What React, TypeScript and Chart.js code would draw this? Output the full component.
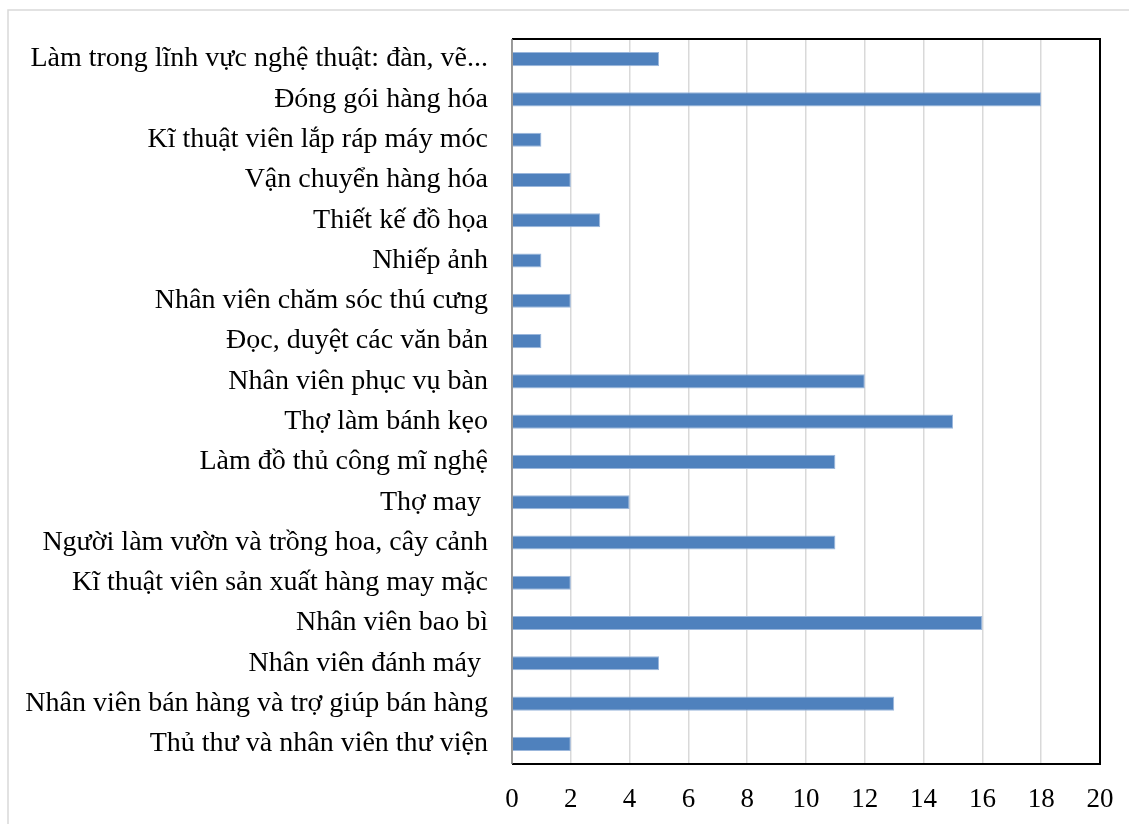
import React, { useEffect, useRef } from "react";
import { Chart, registerables } from "chart.js";

Chart.register(...registerables);

const categories: string[] = [
  "Làm trong lĩnh vực nghệ thuật: đàn, vẽ...",
  "Đóng gói hàng hóa",
  "Kĩ thuật viên lắp ráp máy móc",
  "Vận chuyển hàng hóa",
  "Thiết kế đồ họa",
  "Nhiếp ảnh",
  "Nhân viên chăm sóc thú cưng",
  "Đọc, duyệt các văn bản",
  "Nhân viên phục vụ bàn",
  "Thợ làm bánh kẹo",
  "Làm đồ thủ công mĩ nghệ",
  "Thợ may ",
  "Người làm vườn và trồng hoa, cây cảnh",
  "Kĩ thuật viên sản xuất hàng may mặc",
  "Nhân viên bao bì",
  "Nhân viên đánh máy ",
  "Nhân viên bán hàng và trợ giúp bán hàng",
  "Thủ thư và nhân viên thư viện",
];

const values: number[] = [5, 18, 1, 2, 3, 1, 2, 1, 12, 15, 11, 4, 11, 2, 16, 5, 13, 2];

const xMin = 0;
const xMax = 20;
const xStep = 2;

const FONT = "'Liberation Serif', 'Times New Roman', serif";

export default function App() {
  const ref = useRef<HTMLCanvasElement>(null);

  useEffect(() => {
    document.body.style.margin = "0";
    const canvas = ref.current!;
    const framePlugin = {
      id: "frame",
      beforeDraw(chart: any) {
        const ctx = chart.ctx;
        ctx.save();
        ctx.fillStyle = "#ffffff";
        ctx.fillRect(0, 0, chart.width, chart.height);
        ctx.strokeStyle = "#d9d9d9";
        ctx.lineWidth = 1.5;
        ctx.beginPath();
        ctx.moveTo(8, chart.height);
        ctx.lineTo(8, 10);
        ctx.lineTo(chart.width, 10);
        ctx.stroke();
        ctx.restore();
      },
      afterDraw(chart: any) {
        const { left, right, top, bottom } = chart.chartArea;
        const ctx = chart.ctx;
        ctx.save();
        ctx.strokeStyle = "#000000";
        ctx.lineWidth = 2;
        ctx.beginPath();
        ctx.moveTo(left, top);
        ctx.lineTo(right, top);
        ctx.lineTo(right, bottom);
        ctx.lineTo(left, bottom);
        ctx.stroke();
        ctx.strokeStyle = "#808080";
        ctx.lineWidth = 1.5;
        ctx.beginPath();
        ctx.moveTo(left, top);
        ctx.lineTo(left, bottom);
        ctx.stroke();
        ctx.restore();
      },
    };

    const chart = new Chart(canvas, {
      type: "bar",
      data: {
        labels: categories,
        datasets: [
          {
            data: values,
            backgroundColor: "#4f81bd",
            borderColor: "#9bb7dc",
            borderWidth: 1,
            barPercentage: 0.35,
            categoryPercentage: 1,
          },
        ],
      },
      options: {
        indexAxis: "y",
        animation: false,
        responsive: false,
        maintainAspectRatio: false,
        layout: { padding: { left: 0, right: 29, top: 39, bottom: 0 } },
        plugins: {
          legend: { display: false },
          tooltip: { enabled: false },
        },
        scales: {
          x: {
            min: xMin,
            max: xMax,
            ticks: {
              stepSize: xStep,
              color: "#000000",
              font: { family: FONT, size: 27 },
              padding: 20,
            },
            grid: {
              color: "#d9d9d9",
              lineWidth: 1.5,
              drawTicks: false,
            },
            border: { display: false },
            afterFit(scale: any) {
              scale.height = 60;
              scale.paddingLeft = 0;
              scale.paddingRight = 0;
            },
          },
          y: {
            ticks: {
              color: "#000000",
              font: { family: FONT, size: 28 },
              padding: 24,
              autoSkip: false,
            },
            grid: { display: false, drawTicks: false },
            border: { display: false },
            afterFit(scale: any) {
              scale.width = 512;
              scale.paddingTop = 0;
              scale.paddingBottom = 0;
            },
          },
        },
      },
      plugins: [framePlugin],
    });
    return () => chart.destroy();
  }, []);

  return <canvas ref={ref} width={1129} height={824} style={{ display: "block" }} />;
}
